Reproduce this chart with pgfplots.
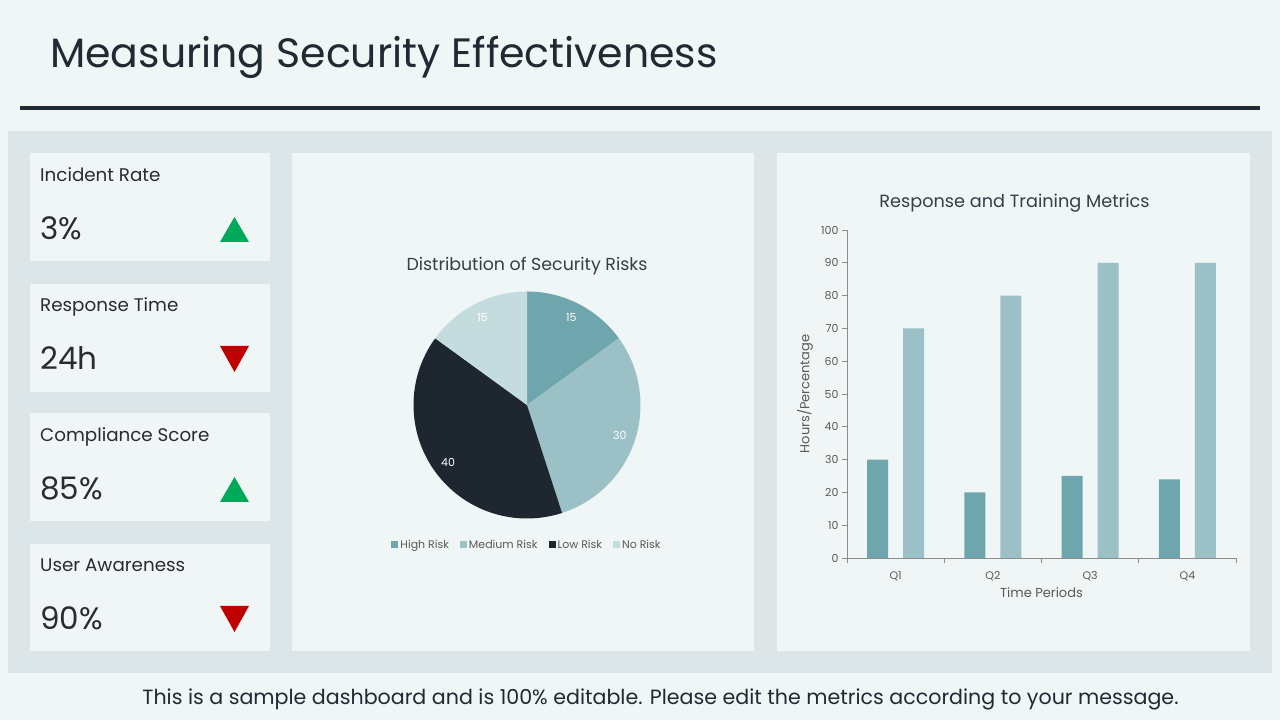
\documentclass[border=0pt]{standalone}
\usepackage{fontspec}
\setmainfont{Poppins}
\usepackage{pgfplots}
\pgfplotsset{compat=1.18}
\definecolor{pagebg}{RGB}{240,245,246}
\definecolor{panelbg}{RGB}{220,230,233}
\definecolor{cardbg}{RGB}{240,245,246}
\definecolor{titlec}{RGB}{31,42,51}
\definecolor{upgreen}{RGB}{0,168,89}
\definecolor{downred}{RGB}{192,0,0}
\definecolor{highc}{RGB}{111,166,174}
\definecolor{medc}{RGB}{155,193,198}
\definecolor{lowc}{RGB}{30,39,48}
\definecolor{noc}{RGB}{197,220,223}
\definecolor{axisgray}{RGB}{140,140,140}
\definecolor{textgray}{RGB}{89,89,89}
\definecolor{cardtext}{RGB}{40,44,48}
\begin{document}
\begin{tikzpicture}[x=1pt,y=1pt]
\fill[pagebg] (0,0) rectangle (1280,720);
% header
\node[anchor=base west, text=titlec, inner sep=0] at (50,652) {\fontsize{41}{49}\selectfont Measuring Security Effectiveness};
\fill[titlec] (20,610) rectangle (1260,614);
% main panel
\fill[panelbg] (8,47) rectangle (1272,589);
% cards
\fill[cardbg] (30,459) rectangle (270,567);
\fill[cardbg] (30,328) rectangle (270,436);
\fill[cardbg] (30,199) rectangle (270,307);
\fill[cardbg] (30,69) rectangle (270,176);
\fill[cardbg] (292,69) rectangle (754,567);
\fill[cardbg] (777,69) rectangle (1250,567);
% card texts
\node[anchor=base west, inner sep=0, text=cardtext] at (40,538) {\fontsize{18.3}{22}\selectfont Incident Rate};
\node[anchor=base west, inner sep=0, text=cardtext] at (40,480) {\fontsize{31}{37}\selectfont 3\%};
\node[anchor=base west, inner sep=0, text=cardtext] at (40,408) {\fontsize{18.3}{22}\selectfont Response Time};
\node[anchor=base west, inner sep=0, text=cardtext] at (40,350) {\fontsize{31}{37}\selectfont 24h};
\node[anchor=base west, inner sep=0, text=cardtext] at (40,278) {\fontsize{18.3}{22}\selectfont Compliance Score};
\node[anchor=base west, inner sep=0, text=cardtext] at (40,220) {\fontsize{31}{37}\selectfont 85\%};
\node[anchor=base west, inner sep=0, text=cardtext] at (40,148) {\fontsize{18.3}{22}\selectfont User Awareness};
\node[anchor=base west, inner sep=0, text=cardtext] at (40,90) {\fontsize{31}{37}\selectfont 90\%};
% trend triangles
\fill[upgreen] (220,478) -- (249,478) -- (234.5,503) -- cycle;
\fill[downred] (220,374) -- (249,374) -- (234.5,348) -- cycle;
\fill[upgreen] (220,218) -- (249,218) -- (234.5,243) -- cycle;
\fill[downred] (220,114) -- (249,114) -- (234.5,88) -- cycle;
% footer
\node[anchor=base, inner sep=0, text=titlec] at (660.5,15) {\fontsize{20.6}{24}\selectfont This is a sample dashboard and is 100\% editable. Please edit the metrics according to your message.};
% chart titles
\node[anchor=base, inner sep=0, text=titlec!90] at (527,449) {\fontsize{17.4}{21}\selectfont Distribution of Security Risks};
\node[anchor=base, inner sep=0, text=titlec!90] at (1014.5,512) {\fontsize{17.7}{21}\selectfont Response and Training Metrics};
% pie
\begin{axis}[at={(527pt,315pt)}, anchor=center, width=227pt, height=227pt, scale only axis,
  xmin=-1, xmax=1, ymin=-1, ymax=1, hide axis, clip=false,
  legend style={at={(0.5,-0.115)}, anchor=center, draw=none, fill=none, legend columns=4,
    font=\fontsize{11}{13}\selectfont, text=textgray,
    /tikz/every even column/.append style={column sep=9pt}},
  legend image code/.code={\fill[#1] (0pt,-3.5pt) rectangle (7pt,3.5pt);}]
\addplot[fill=highc, draw=none, domain={90-3.6*15}:{90}, samples=60] ({cos(x)},{sin(x)}) -- (0,0) -- cycle;
\addlegendentry{High Risk}
\addplot[fill=medc, draw=none, domain={90-3.6*(15+30)}:{90-3.6*15}, samples=60] ({cos(x)},{sin(x)}) -- (0,0) -- cycle;
\addlegendentry{Medium Risk}
\addplot[fill=lowc, draw=none, domain={90-3.6*(45+40)}:{90-3.6*45}, samples=80] ({cos(x)},{sin(x)}) -- (0,0) -- cycle;
\addlegendentry{Low Risk}
\addplot[fill=noc, draw=none, domain={90-3.6*(85+15)}:{90-3.6*85}, samples=60] ({cos(x)},{sin(x)}) -- (0,0) -- cycle;
\addlegendentry{No Risk}
\node[text=white, font=\fontsize{11}{13}\selectfont] at (axis cs:{0.86*cos(63)},{0.86*sin(63)}) {15};
\node[text=white, font=\fontsize{11}{13}\selectfont] at (axis cs:{0.86*cos(-18)},{0.86*sin(-18)}) {30};
\node[text=white, font=\fontsize{11}{13}\selectfont] at (axis cs:{0.86*cos(-144)},{0.86*sin(-144)}) {40};
\node[text=white, font=\fontsize{11}{13}\selectfont] at (axis cs:{0.86*cos(117)},{0.86*sin(117)}) {15};
\end{axis}
% bar chart
\begin{axis}[at={(847pt,162pt)}, anchor=south west, width=389pt, height=328pt, scale only axis,
  xmin=-0.5, xmax=3.5, ymin=0, ymax=100, ytick={0,10,...,100},
  xtick={0,1,2,3}, xticklabels={Q1,Q2,Q3,Q4}, minor xtick={-0.5,0.5,1.5,2.5,3.5},
  axis x line*=bottom, axis y line*=left, tick align=outside,
  major tick length=5pt, minor tick length=5pt,
  major x tick style={draw=none},
  axis line style={draw=axisgray, line width=0.8pt}, tick style={draw=axisgray, line width=0.8pt},
  ticklabel style={font=\fontsize{11}{13}\selectfont, text=textgray},
  xticklabel style={yshift=-5pt},
  /pgf/number format/assume math mode=true,
  xlabel={Time Periods}, ylabel={Hours/Percentage},
  label style={font=\fontsize{13}{15}\selectfont, text=textgray},
  x label style={at={(axis description cs:0.5,-0.106)}, anchor=center},
  y label style={at={(axis description cs:-0.108,0.5)}, anchor=center}]
\addplot[ybar, bar width=21pt, bar shift=-18pt, fill=highc, draw=none] coordinates {(0,30) (1,20) (2,25) (3,24)};
\addplot[ybar, bar width=21pt, bar shift=18pt, fill=medc, draw=none] coordinates {(0,70) (1,80) (2,90) (3,90)};
\end{axis}
\end{tikzpicture}
\end{document}
